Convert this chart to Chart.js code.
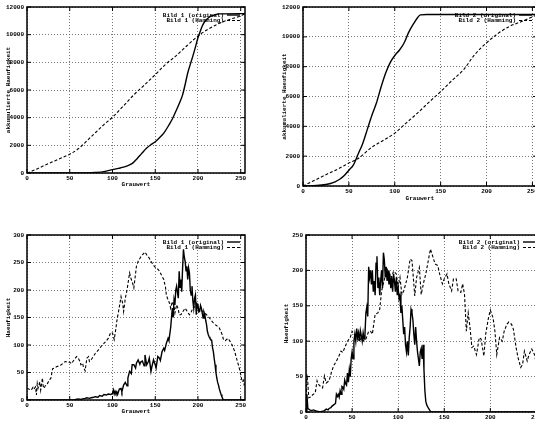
<!DOCTYPE html>
<html>
<head>
<meta charset="utf-8">
<script src="https://cdn.jsdelivr.net/npm/chart.js@4.4.0/dist/chart.umd.min.js"></script>
<style>
  html, body { margin: 0; padding: 0; background: #fff; overflow: hidden; width: 535px; height: 422px; }
  canvas { position: absolute; }
</style>
</head>
<body>
<canvas id="kum1" width="267" height="200" style="left:0;top:0"></canvas>
<canvas id="kum2" width="290" height="210" style="left:267px;top:0"></canvas>
<canvas id="hist1" width="267" height="197" style="left:0;top:225px"></canvas>
<canvas id="hist2" width="290" height="205" style="left:267px;top:225px"></canvas>
<script>
// [grauwert, wert]
const kum1Original = [[0,0],[55,0],[70,10],[80,40],[90,100],[100,240],[107,330],[114,440],[120,580],[124,730],[129,1050],[134,1400],[140,1800],[145,2050],[150,2260],[155,2550],[160,2880],[166,3470],[170,3900],[174,4440],[178,5000],[182,5650],[185,6400],[188,7230],[191,7850],[194,8450],[197,9100],[200,9780],[203,10300],[205,10630],[208,10950],[211,11150],[214,11300],[217,11380],[221,11460],[225,11500],[255,11520]];
const kum1Hamming = [[0,0],[10,250],[25,680],[40,1080],[50,1360],[60,1750],[75,2620],[90,3500],[100,4030],[112,4800],[125,5650],[138,6400],[150,7110],[162,7850],[175,8500],[187,9200],[200,9900],[212,10400],[225,10820],[237,11100],[250,11360],[255,11500]];

const kum2Original = [[0,0],[15,30],[25,100],[30,170],[35,280],[40,450],[45,700],[50,1060],[55,1420],[60,2130],[65,2840],[70,3780],[75,4730],[80,5560],[85,6620],[90,7560],[95,8270],[100,8750],[105,9100],[110,9570],[115,10280],[120,10830],[125,11300],[128,11470],[135,11500],[255,11500]];
const kum2Hamming = [[0,0],[10,300],[25,760],[40,1200],[50,1540],[60,1840],[75,2600],[90,3150],[100,3540],[112,4200],[125,4900],[137,5600],[150,6330],[162,7050],[175,7800],[187,8800],[200,9600],[212,10200],[225,10700],[237,11000],[250,11340],[255,11480]];

const hist1Original = [[0,0],[55,0],[57,1],[60,2],[63,1],[65,2],[68,3],[70,4],[73,3],[75,4],[78,5],[80,6],[83,5],[85,8],[88,7],[90,10],[93,9],[95,11],[98,10],[100,12],[101,18],[102,11],[103,16],[104,12],[105,15],[106,10],[108,20],[110,21],[111,15],[113,27],[115,32],[117,26],[118,40],[120,52],[122,48],[123,64],[125,64],[127,58],[128,67],[130,73],[132,65],[133,69],[135,71],[137,62],[138,82],[140,64],[142,70],[143,76],[145,52],[146,60],[148,73],[150,64],[151,58],[153,79],[155,76],[156,72],[158,88],[160,94],[161,90],[163,103],[165,112],[166,108],[168,131],[170,167],[171,150],[172,182],[173,173],[174,200],[175,207],[176,195],[177,185],[178,234],[179,205],[180,219],[181,197],[182,240],[183,274],[184,260],[185,252],[186,235],[187,243],[188,219],[189,240],[190,231],[191,200],[192,191],[193,207],[194,180],[195,167],[196,185],[197,191],[198,155],[199,175],[200,173],[201,160],[202,161],[203,172],[204,167],[205,158],[206,149],[207,160],[208,155],[209,145],[210,137],[211,125],[212,119],[213,115],[214,112],[215,110],[216,109],[217,95],[218,88],[219,75],[220,64],[221,50],[222,40],[223,32],[224,27],[225,20],[226,15],[227,10],[228,6],[229,2],[230,0],[255,0]];
const hist1Hamming = [[0,21],[2,20],[4,18],[5,18],[7,23],[8,20],[10,24],[11,9],[12,30],[13,22],[15,33],[16,18],[17,28],[18,40],[19,25],[20,21],[22,28],[24,30],[25,33],[27,38],[28,40],[30,57],[32,58],[35,61],[38,62],[40,64],[43,68],[45,70],[48,68],[50,69],[52,66],[55,73],[58,79],[60,76],[62,70],[63,64],[65,67],[66,60],[68,53],[70,76],[72,79],[73,70],[75,73],[78,80],[80,85],[83,90],[85,94],[88,100],[90,103],[93,108],[95,112],[98,123],[100,122],[102,110],[104,130],[105,143],[107,160],[110,188],[112,175],[113,161],[115,185],[117,200],[120,231],[122,219],[124,210],[125,204],[127,230],[128,243],[130,252],[133,260],[135,264],[138,269],[140,264],[143,258],[145,252],[148,245],[150,241],[153,238],[155,234],[158,225],[160,219],[162,205],[163,191],[165,182],[167,175],[168,167],[170,179],[172,170],[173,158],[175,173],[177,165],[178,155],[180,155],[182,160],[185,167],[187,162],[190,155],[192,160],[195,170],[197,168],[200,167],[203,163],[205,162],[208,158],[210,155],[213,150],[215,146],[218,140],[220,137],[223,134],[225,131],[228,120],[230,109],[232,108],[235,112],[237,108],[240,100],[243,88],[245,76],[248,60],[250,46],[251,38],[252,33],[253,36],[254,28],[255,30]];

const hist2Original = [[0,0],[1,25],[2,5],[4,3],[6,2],[8,3],[10,2],[12,1],[15,0],[18,1],[20,2],[22,4],[24,3],[25,5],[27,6],[28,8],[30,10],[32,12],[33,25],[34,22],[35,25],[36,21],[37,30],[38,25],[39,36],[40,35],[41,32],[42,45],[43,40],[44,38],[45,55],[46,42],[47,60],[48,50],[49,75],[50,85],[51,75],[52,100],[53,110],[54,100],[55,118],[56,105],[57,112],[58,100],[59,115],[60,108],[61,100],[62,112],[63,103],[64,110],[65,140],[66,148],[67,135],[68,205],[69,190],[70,200],[71,180],[72,200],[73,170],[74,185],[75,165],[76,210],[77,220],[78,175],[79,190],[80,165],[81,185],[82,200],[83,175],[84,225],[85,215],[86,190],[87,205],[88,185],[89,200],[90,180],[91,195],[92,175],[93,190],[94,170],[95,195],[96,185],[97,170],[98,190],[99,165],[100,175],[101,160],[102,165],[103,140],[104,150],[105,130],[106,110],[107,120],[108,95],[109,85],[110,100],[111,80],[112,105],[113,120],[114,145],[115,140],[116,130],[117,110],[118,95],[119,120],[120,100],[121,85],[122,75],[123,65],[124,85],[125,90],[126,75],[127,95],[128,60],[129,30],[130,15],[131,10],[133,5],[135,1],[136,0],[255,0]];
const hist2Hamming = [[0,0],[1,53],[2,41],[3,20],[5,21],[7,24],[10,27],[12,44],[13,40],[15,37],[18,34],[20,51],[22,41],[25,44],[28,58],[30,65],[33,72],[35,77],[38,86],[40,84],[42,91],[45,100],[48,105],[50,114],[52,110],[55,105],[58,100],[60,105],[63,100],[65,103],[68,114],[70,114],[72,110],[75,138],[78,140],[80,145],[82,171],[85,187],[88,202],[90,197],[93,190],[95,199],[98,195],[100,176],[102,190],[104,166],[106,171],[108,180],[110,190],[113,216],[115,214],[118,164],[120,190],[123,204],[125,166],[128,185],[130,195],[133,216],[135,230],[138,218],[140,209],[143,207],[145,195],[148,181],[150,188],[153,195],[155,181],[158,171],[160,188],[163,188],[165,171],[168,169],[170,181],[172,166],[174,114],[176,140],[178,119],[180,91],[182,93],[185,81],[188,105],[190,103],[193,79],[195,110],[198,133],[200,144],[203,133],[205,114],[207,81],[210,105],[213,100],[215,114],[218,124],[220,127],[223,124],[225,117],[228,91],[230,77],[233,63],[235,67],[237,86],[240,72],[242,81],[245,89],[248,81],[250,67],[253,60],[255,55]];

const xTitle = "Grauwert";
const kumTitle = "akkumulierte Haeufigkeit";
const histTitle = "Haeufigkeit";

const tickFont = { family: "Liberation Mono", size: 6, weight: "bold" };

// gnuplot-style frame with inward ticks, plus key in the upper right corner
const frameKey = {
  id: "frameKey",
  afterDatasetsDraw(chart) {
    const { ctx, chartArea: a, scales } = chart;
    const o = chart.options.plugins.frameKey;
    ctx.save();
    ctx.strokeStyle = "#000";
    ctx.setLineDash([]);
    ctx.lineWidth = 1;
    ctx.beginPath();
    scales.x.ticks.forEach((t) => {
      const px = scales.x.getPixelForValue(t.value);
      ctx.moveTo(px, a.bottom); ctx.lineTo(px, a.bottom - 4);
      ctx.moveTo(px, a.top); ctx.lineTo(px, a.top + 4);
    });
    scales.y.ticks.forEach((t) => {
      const py = scales.y.getPixelForValue(t.value);
      ctx.moveTo(a.left, py); ctx.lineTo(a.left + 4, py);
      ctx.moveTo(a.right, py); ctx.lineTo(a.right - 4, py);
    });
    ctx.stroke();
    ctx.lineWidth = 1.5;
    ctx.strokeRect(a.left, a.top, a.right - a.left, a.bottom - a.top);
    ctx.font = 'bold 6px "Liberation Mono"';
    ctx.textAlign = "right";
    ctx.textBaseline = "middle";
    ctx.fillStyle = "#000";
    chart.data.datasets.forEach((ds, i) => {
      const y = a.top + o.top + i * 5.5;
      const x1 = a.right - o.right;
      ctx.fillText(ds.label, x1 - 16, y);
      ctx.lineWidth = ds.borderWidth;
      ctx.setLineDash(ds.borderDash || []);
      ctx.beginPath();
      ctx.moveTo(x1 - 13, y);
      ctx.lineTo(x1, y);
      ctx.stroke();
    });
    ctx.restore();
  },
};

function toPoints(list) {
  return list.map(([x, y]) => ({ x: x, y: y }));
}

function makeChart(id, g) {
  new Chart(document.getElementById(id), {
    type: "line",
    data: {
      datasets: [
        {
          label: g.labels[0],
          data: toPoints(g.solid),
          borderColor: "#000",
          borderWidth: 1.4,
          cubicInterpolationMode: g.smooth ? "monotone" : "default",
        },
        {
          label: g.labels[1],
          data: toPoints(g.dashed),
          borderColor: "#000",
          borderWidth: 1.1,
          borderDash: [3, 2],
          cubicInterpolationMode: g.smooth ? "monotone" : "default",
        },
      ],
    },
    options: {
      responsive: false,
      animation: false,
      elements: { point: { radius: 0 }, line: { tension: 0 } },
      layout: { padding: { top: g.top, right: g.right, left: 0, bottom: 0 } },
      plugins: {
        legend: { display: false },
        tooltip: { enabled: false },
        frameKey: { top: g.keyTop, right: 5 },
      },
      scales: {
        x: {
          type: "linear",
          min: 0,
          max: 255,
          afterFit: (s) => { s.height = g.xh; },
          ticks: { stepSize: 50, includeBounds: false, padding: 2, maxRotation: 0, color: "#000", font: tickFont },
          grid: { color: "#555", lineWidth: 0.8, drawTicks: false },
          border: { display: false, dash: [1, 2] },
          title: { display: true, text: xTitle, color: "#000", font: tickFont, padding: { top: 0, bottom: g.xtPad } },
        },
        y: {
          min: 0,
          max: g.ymax,
          afterFit: (s) => { s.width = g.yw; },
          ticks: { stepSize: g.ystep, padding: 3, color: "#000", font: tickFont, callback: (v) => String(v) },
          grid: { color: "#555", lineWidth: 0.8, drawTicks: false },
          border: { display: false, dash: [1, 2] },
          title: { display: true, text: g.yTitle, color: "#000", font: tickFont, padding: { top: g.ytPad, bottom: 0 } },
        },
      },
    },
    plugins: [frameKey],
  });
}

makeChart("kum1", {
  labels: ["Bild 1 (original)", "Bild 1 (Hamming)"],
  solid: kum1Original, dashed: kum1Hamming, smooth: true,
  ymax: 12000, ystep: 2000, yTitle: kumTitle,
  top: 7, right: 22, xh: 27, yw: 27, xtPad: 12, ytPad: 5, keyTop: 8,
});
makeChart("kum2", {
  labels: ["Bild 2 (original)", "Bild 2 (Hamming)"],
  solid: kum2Original, dashed: kum2Hamming, smooth: true,
  ymax: 12000, ystep: 2000, yTitle: kumTitle,
  top: 7, right: 20, xh: 24, yw: 36, xtPad: 8, ytPad: 14, keyTop: 8,
});
makeChart("hist1", {
  labels: ["Bild 1 (original)", "Bild 1 (Hamming)"],
  solid: hist1Original, dashed: hist1Hamming, smooth: false,
  ymax: 300, ystep: 50, yTitle: histTitle,
  top: 10, right: 22, xh: 22, yw: 27, xtPad: 7, ytPad: 5, keyTop: 7,
});
makeChart("hist2", {
  labels: ["Bild 2 (original)", "Bild 2 (Hamming)"],
  solid: hist2Original, dashed: hist2Hamming, smooth: false,
  ymax: 250, ystep: 50, yTitle: histTitle,
  top: 10, right: 16, xh: 18, yw: 39, xtPad: 0, ytPad: 16, keyTop: 7,
});
</script>
</body>
</html>
